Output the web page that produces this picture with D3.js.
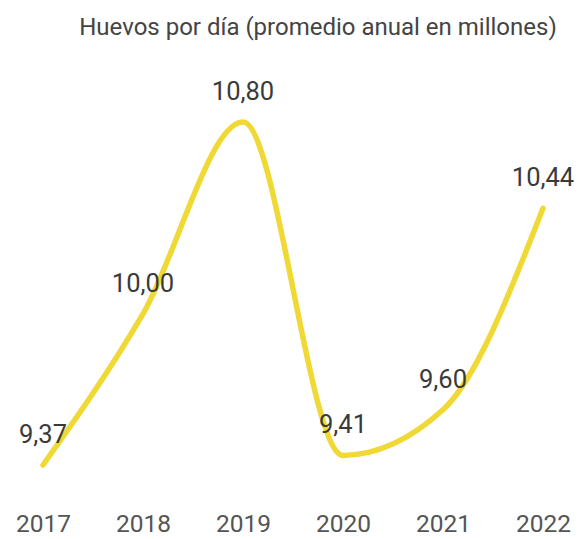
<!DOCTYPE html>
<html>
<head>
<meta charset="utf-8">
<script src="https://cdn.jsdelivr.net/npm/d3@7"></script>
<style>
  html, body { margin: 0; padding: 0; background: #fff; }
  svg { display: block; font-family: Roboto, "Noto Sans", sans-serif; }
</style>
</head>
<body>
<svg id="chart" width="578" height="539"></svg>
<script>
// Eggs per day, yearly average in millions
const years = ["2017", "2018", "2019", "2020", "2021", "2022"];
const values = [9.37, 10.00, 10.80, 9.41, 9.60, 10.44];
const valueLabels = ["9,37", "10,00", "10,80", "9,41", "9,60", "10,44"];
const title = "Huevos por día (promedio anual en millones)";

const svg = d3.select("#chart");

const x = d3.scalePoint().domain(years).range([43, 543]);
const y = d3.scaleLinear().domain([9.37, 10.80]).range([465, 122]);

svg.append("text")
  .attr("x", 318).attr("y", 35)
  .attr("text-anchor", "middle")
  .attr("font-size", 24)
  .attr("fill", "#444")
  .text(title);

const line = d3.line()
  .x((d, i) => x(years[i]))
  .y(d => y(d))
  .curve(d3.curveMonotoneX);

svg.append("path")
  .datum(values)
  .attr("d", line)
  .attr("fill", "none")
  .attr("stroke", "#F0D934")
  .attr("stroke-width", 5.5)
  .attr("stroke-linecap", "round");

svg.selectAll(".val")
  .data(values)
  .join("text")
  .attr("class", "val")
  .attr("x", (d, i) => x(years[i]))
  .attr("y", d => y(d) - 22)
  .attr("text-anchor", "middle")
  .attr("font-size", 25.5)
  .attr("fill", "#3a3a3a")
  .text((d, i) => valueLabels[i]);

const axis = d3.axisBottom(x).tickSize(0).tickPadding(0);
const g = svg.append("g").attr("transform", "translate(0,532)").call(axis);
g.select(".domain").remove();
g.selectAll("text")
  .attr("font-size", 24.5)
  .attr("font-family", "Roboto, sans-serif")
  .attr("fill", "#555")
  .attr("dy", "0");
</script>
</body>
</html>
